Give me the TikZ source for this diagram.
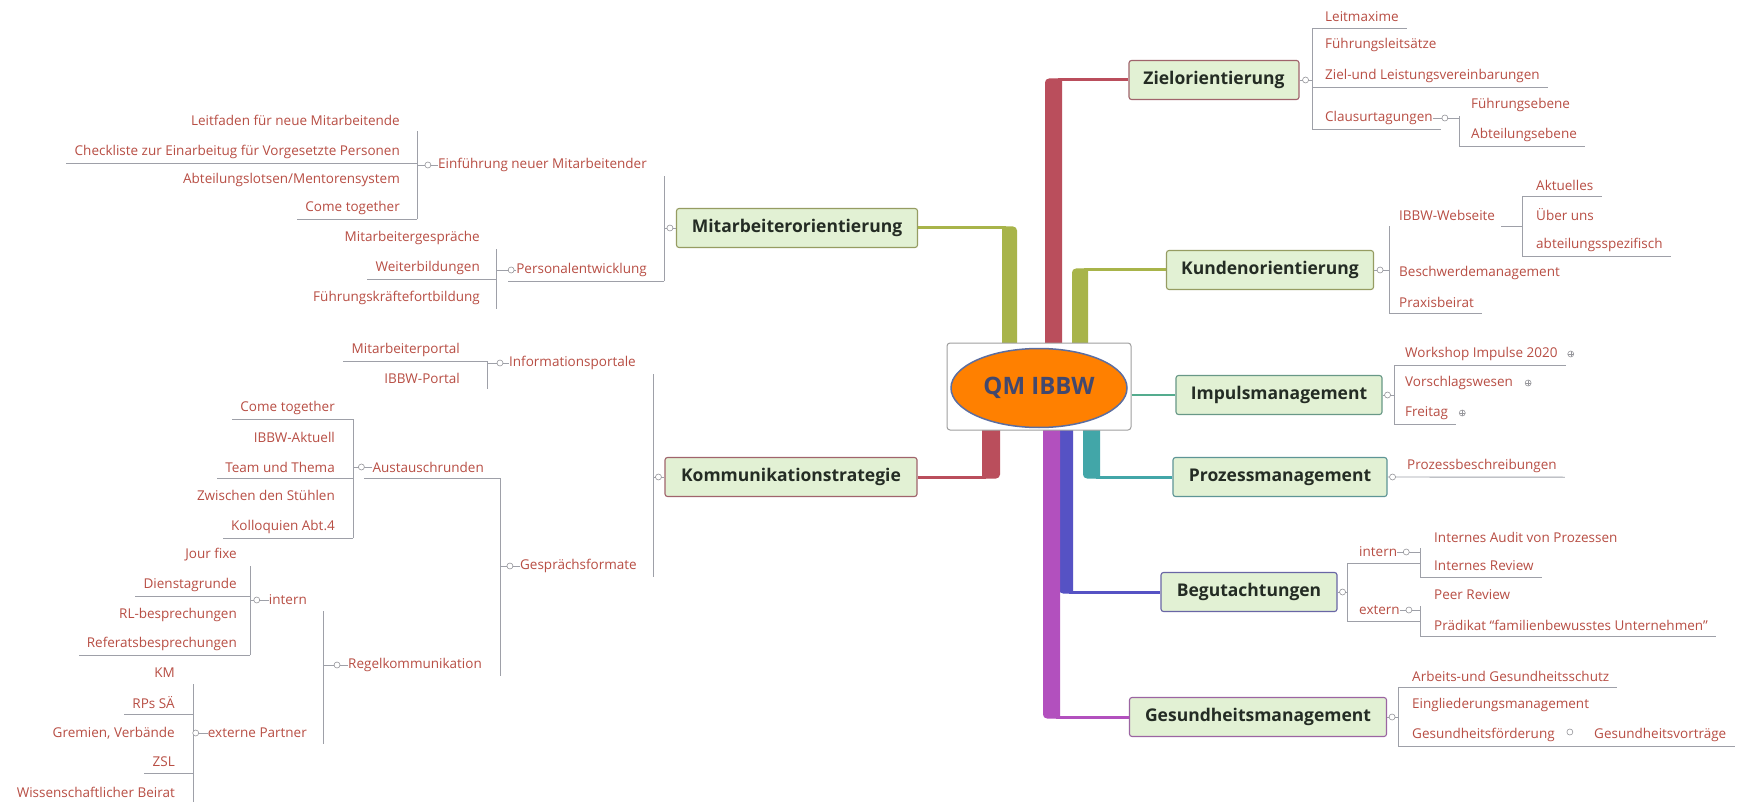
\documentclass[tikz,border=0pt]{standalone}
\usepackage{fontspec}
\setmainfont{Open Sans}
\usetikzlibrary{calc,shapes.geometric}
\definecolor{bRed}{RGB}{186,78,92}
\definecolor{bOlive}{RGB}{168,180,74}
\definecolor{bTeal}{RGB}{66,166,168}
\definecolor{bBlue}{RGB}{86,82,196}
\definecolor{bPurple}{RGB}{178,80,190}
\definecolor{bImp}{RGB}{84,172,142}
\definecolor{subc}{RGB}{184,78,68}
\definecolor{linec}{RGB}{158,160,168}
\definecolor{topf}{RGB}{226,241,212}
\definecolor{topt}{RGB}{36,44,36}
\definecolor{rootc}{RGB}{255,128,0}
\definecolor{rootb}{RGB}{92,110,160}
\definecolor{roott}{RGB}{66,72,110}
\definecolor{mkc}{RGB}{150,150,155}
\begin{document}
\begin{tikzpicture}[x=1pt,y=-1pt,
  subtxt/.style={font=\fontsize{13.5}{16}\selectfont, text=subc, inner xsep=0pt, inner ysep=0pt, minimum height=22pt},
  subR/.style={subtxt, anchor=west},
  subL/.style={subtxt, anchor=east},
  ul/.style={draw=linec, line width=0.9pt},
  topic/.style={draw=#1!55!gray, fill=topf, rounded corners=2.5pt, line width=1.1pt, font=\fontsize{17.5}{21}\selectfont\bfseries, text=topt, minimum height=39pt, inner xsep=2pt},
  mk/.style={circle, draw=mkc, fill=white, line width=0.6pt, inner sep=0pt, minimum size=6pt},
  mkp/.style={mk, path picture={\draw[mkc, line width=0.5pt] (path picture bounding box.west) -- (path picture bounding box.east) (path picture bounding box.north) -- (path picture bounding box.south);}},
  twig/.style={line width=3pt},
]
\useasboundingbox (0,0) rectangle (1742,802);
\fill[white] (0,0) rectangle (1742,802);

% ---------- main topics ----------
\node[topic=bRed, minimum width=170pt] (ziel) at (1214,80) {Zielorientierung};
\node[topic=bOlive, minimum width=207pt] (kun) at (1270,270) {Kundenorientierung};
\node[topic=bImp, minimum width=206pt] (imp) at (1279,395) {Impulsmanagement};
\node[topic=bTeal, minimum width=214pt] (pro) at (1280,477) {Prozessmanagement};
\node[topic=bBlue, minimum width=176pt] (beg) at (1249,592) {Begutachtungen};
\node[topic=bPurple, minimum width=257pt] (ges) at (1258,717) {Gesundheitsmanagement};
\node[topic=bOlive, minimum width=241pt] (mit) at (797,228) {Mitarbeiterorientierung};
\node[topic=bRed, minimum width=252pt] (kom) at (791,477) {Kommunikationstrategie};

% ---------- thick branches (outer corner slightly rounded) ----------
\fill[bRed] (1045,344) [rounded corners=4pt] -- (1045,78.5) [sharp corners] -- (1062,78.5) -- (1062,344) -- cycle;
\fill[bOlive] (1017,344) [rounded corners=4pt] -- (1017,226.5) [sharp corners] -- (1002,226.5) -- (1002,344) -- cycle;
\fill[bOlive] (1072,344) [rounded corners=4pt] -- (1072,268.5) [sharp corners] -- (1088,268.5) -- (1088,344) -- cycle;
\fill[bTeal] (1083,429) [rounded corners=4pt] -- (1083,478.5) [sharp corners] -- (1100,478.5) -- (1100,429) -- cycle;
\fill[bRed] (1000,429) [rounded corners=4pt] -- (1000,478.5) [sharp corners] -- (982,478.5) -- (982,429) -- cycle;
\fill[bBlue] (1059,429) [rounded corners=4pt] -- (1059,593.5) [sharp corners] -- (1073,593.5) -- (1073,429) -- cycle;
\fill[bPurple] (1043,429) [rounded corners=4pt] -- (1043,718.5) [sharp corners] -- (1060,718.5) -- (1060,429) -- cycle;

% ---------- root ----------
\node[draw=gray!75, fill=white, rounded corners=3pt, minimum width=184pt, minimum height=87pt, line width=1pt] (root) at (1039,386.5) {};
\node[ellipse, fill=rootc, draw=rootb, line width=1.5pt, minimum width=176pt, minimum height=79pt, inner sep=0pt, font=\fontsize{24}{28}\selectfont\bfseries, text=roott] (core) at (1039,388) {QM IBBW};

\draw[bRed, twig] (1058,80) -- (ziel.west);
\draw[bOlive, twig] (1006,228) -- (mit.east);
\draw[bOlive, twig] (1084,270) -- (kun.west);
\draw[bImp, line width=2.5pt] (root.east |- imp.west) -- (imp.west);
\draw[bTeal, twig] (1096,477) -- (pro.west);
\draw[bRed, twig] (986,477) -- (kom.east);
\draw[bBlue, twig] (1069,592) -- (beg.west);
\draw[bPurple, twig] (1056,717) -- (ges.west);

% ================= RIGHT SIDE =================
% Zielorientierung
\coordinate (vZ) at (1312,0);
\node[subR] (z1) at (1325,17) {Leitmaxime};
\node[subR] (z2) at (1325,45) {Führungsleitsätze};
\node[subR] (z3) at (1325,76) {Ziel-und Leistungsvereinbarungen};
\node[subR] (z4) at (1325,118) {Clausurtagungen};
\draw[ul] (z1.south -| vZ) -- (z4.south -| vZ);
\draw[ul] (ziel.east) -- (ziel.east -| vZ);
\draw[ul] (z1.south -| vZ) -- ([xshift=8pt]z1.south east);
\draw[ul] (z3.south -| vZ) -- ([xshift=8pt]z3.south east);
\draw[ul] (z4.south -| vZ) -- ([xshift=8pt]z4.south east);
\node[mk] (mZ) at ([xshift=6pt]ziel.east) {};
% Clausurtagungen
\coordinate (vC) at (1459,0);
\node[subR] (c1) at (1471,105) {Führungsebene};
\node[subR] (c2) at (1471,135) {Abteilungsebene};
\draw[ul] (c1.south -| vC) -- (c2.south -| vC);
\draw[ul] (z4.east) -- (z4.east -| vC);
\draw[ul] (c2.south -| vC) -- ([xshift=8pt]c2.south east);
\node[mk] (mC) at ([xshift=12pt]z4.east) {};

% Kundenorientierung
\coordinate (vK) at (1389,0);
\node[subR] (k1) at (1399,215) {IBBW-Webseite};
\node[subR] (k2) at (1399,273) {Beschwerdemanagement};
\node[subR] (k3) at (1399,302) {Praxisbeirat};
\draw[ul] (k1.south -| vK) -- (k3.south -| vK);
\draw[ul] (kun.east) -- (kun.east -| vK);
\draw[ul] (k3.south -| vK) -- ([xshift=8pt]k3.south east);
\node[mk] (mK) at ([xshift=6pt]kun.east) {};
% IBBW-Webseite
\coordinate (vW) at (1522,0);
\node[subR] (w1) at (1536,185) {Aktuelles};
\node[subR] (w2) at (1536,215) {Über uns};
\node[subR] (w3) at (1536,245) {abteilungsspezifisch};
\draw[ul] (w1.south -| vW) -- (w3.south -| vW);
\draw[ul] ([xshift=6pt]k1.south east) -- (k1.south -| vW);
\draw[ul] (w1.south -| vW) -- ([xshift=8pt]w1.south east);
\draw[ul] (w3.south -| vW) -- ([xshift=8pt]w3.south east);

% Impulsmanagement
\coordinate (vI) at (1394,0);
\node[subR] (i1) at (1405,354) {Workshop Impulse 2020};
\node[subR] (i2) at (1405,383) {Vorschlagswesen};
\node[subR] (i3) at (1405,413) {Freitag};
\draw[ul] (i1.south -| vI) -- (i3.south -| vI);
\draw[ul] (imp.east) -- (imp.east -| vI);
\draw[ul] (i1.south -| vI) -- ([xshift=8pt]i1.south east);
\draw[ul] (i3.south -| vI) -- ([xshift=8pt]i3.south east);
\node[mk] (mI) at ([xshift=5pt]imp.east) {};
\node[mkp] (mI1) at ([xshift=13pt]i1.east) {};
\node[mkp] (mI2) at ([xshift=15pt]i2.east) {};
\node[mkp] (mI3) at ([xshift=14pt]i3.east) {};

% Prozessmanagement
\node[subR] (q1) at (1407,466) {Prozessbeschreibungen};
\draw[ul] (pro.east) -- ([xshift=8pt]q1.south east);
\node[mk] (mP) at ([xshift=5pt]pro.east) {};

% Begutachtungen
\coordinate (vB) at (1347,0);
\node[subR] (b1) at (1359,552) {intern};
\node[subR] (b2) at (1359,610) {extern};
\draw[ul] (b1.south -| vB) -- (b2.south -| vB);
\draw[ul] (beg.east) -- (beg.east -| vB);
\coordinate (vBi) at (1420,0);
\draw[ul] (b1.south -| vB) -- (b1.south -| vBi);
\draw[ul] (b2.south -| vB) -- (b2.south -| vBi);
\node[mk] (mB) at ([xshift=5pt]beg.east) {};
% intern
\node[subR] (bi1) at (1434,537) {Internes Audit von Prozessen};
\node[subR] (bi2) at (1434,566) {Internes Review};
\draw[ul] (bi1.south -| vBi) -- (bi2.south -| vBi);
\draw[ul] (b1.east) -- (b1.east -| vBi);
\draw[ul] (bi2.south -| vBi) -- ([xshift=8pt]bi2.south east);
\node[mk] (mBi) at ([xshift=9pt]b1.east) {};
% extern
\node[subR] (be1) at (1434,595) {Peer Review};
\node[subR] (be2) at (1434,625) {Prädikat “familienbewusstes Unternehmen”};
\draw[ul] (be1.south -| vBi) -- (be2.south -| vBi);
\draw[ul] (b2.east) -- (b2.east -| vBi);
\draw[ul] (be2.south -| vBi) -- ([xshift=8pt]be2.south east);
\node[mk] (mBe) at ([xshift=9pt]b2.east) {};

% Gesundheitsmanagement
\coordinate (vG) at (1398,0);
\node[subR] (g1) at (1412,676) {Arbeits-und Gesundheitsschutz};
\node[subR] (g2) at (1412,705) {Eingliederungsmanagement};
\node[subR] (g3) at (1412,735) {Gesundheitsförderung};
\node[subR] (g4) at (1594,735) {Gesundheitsvorträge};
\draw[ul] (g1.south -| vG) -- (g3.south -| vG);
\draw[ul] (ges.east) -- (ges.east -| vG);
\draw[ul] (g1.south -| vG) -- ([xshift=8pt]g1.south east);
\draw[ul] (g3.south -| vG) -- ([xshift=8pt]g4.south east);
\node[mk] (mG) at ([xshift=5pt]ges.east) {};
\node[mk] (mG3) at ([xshift=15pt,yshift=3pt]g3.east) {};

% ================= LEFT SIDE =================
% Mitarbeiterorientierung
\coordinate (vM) at (664,0);
\node[subL] (e0) at (647,165) {Einführung neuer Mitarbeitender};
\node[subL] (p0) at (647,270) {Personalentwicklung};
\draw[ul] (e0.south -| vM) -- (p0.south -| vM);
\draw[ul] (mit.west) -- (mit.west -| vM);
\draw[ul] (p0.south -| vM) -- ([xshift=-8pt]p0.south west);
\node[mk] (mM) at ([xshift=-6pt]mit.west) {};
% Einfuehrung
\coordinate (vE) at (417,0);
\node[subL] (e1) at (400,120) {Leitfaden für neue Mitarbeitende};
\node[subL] (e2) at (400,152) {Checkliste zur Einarbeitug für Vorgesetzte Personen};
\node[subL] (e3) at (400,180) {Abteilungslotsen/Mentorensystem};
\node[subL] (e4) at (400,208) {Come together};
\draw[ul] (e1.south -| vE) -- (e4.south -| vE);
\draw[ul] (e0.west) -- (e0.west -| vE);
\draw[ul] (e2.south -| vE) -- ([xshift=-8pt]e2.south west);
\draw[ul] (e4.south -| vE) -- ([xshift=-8pt]e4.south west);
\node[mk] (mE) at ([xshift=-10pt]e0.west) {};
% Personalentwicklung
\coordinate (vP) at (496,0);
\node[subL] (p1) at (480,238) {Mitarbeitergespräche};
\node[subL] (p2) at (480,268) {Weiterbildungen};
\node[subL] (p3) at (480,298) {Führungskräftefortbildung};
\draw[ul] (p1.south -| vP) -- (p3.south -| vP);
\draw[ul] (p0.west) -- (p0.west -| vP);
\draw[ul] (p2.south -| vP) -- ([xshift=-8pt]p2.south west);
\node[mk] (mP0) at ([xshift=-5pt]p0.west) {};

% Kommunikationstrategie
\coordinate (vKo) at (653,0);
\node[subL] (f1) at (636,363) {Informationsportale};
\node[subL] (f2) at (637,566) {Gesprächsformate};
\draw[ul] (f1.south -| vKo) -- (f2.south -| vKo);
\draw[ul] (kom.west) -- (kom.west -| vKo);
\node[mk] (mKo) at ([xshift=-6pt]kom.west) {};
% Informationsportale
\coordinate (vIn) at (487,0);
\node[subL] (f11) at (460,350) {Mitarbeiterportal};
\node[subL] (f12) at (460,378) {IBBW-Portal};
\draw[ul] (f11.south -| vIn) -- (f12.south -| vIn);
\draw[ul] (f1.west) -- (f1.west -| vIn);
\draw[ul] (f11.south -| vIn) -- ([xshift=-8pt]f11.south west);
\node[mk] (mIn) at ([xshift=-9pt]f1.west) {};
% Gespraechsformate
\coordinate (vGf) at (500,0);
\node[subL] (a0) at (484,467) {Austauschrunden};
\node[subL] (r0) at (482,665) {Regelkommunikation};
\draw[ul] (a0.south -| vGf) -- (r0.south -| vGf);
\draw[ul] (f2.west) -- (f2.west -| vGf);
\draw[ul] (a0.south -| vGf) -- ([xshift=-8pt]a0.south west);
\node[mk] (mGf) at ([xshift=-10pt]f2.west) {};
% Austauschrunden
\coordinate (vA) at (353,0);
\node[subL] (a1) at (335,408) {Come together};
\node[subL] (a2) at (335,437) {IBBW-Aktuell};
\node[subL] (a3) at (335,467) {Team und Thema};
\node[subL] (a4) at (335,495) {Zwischen den Stühlen};
\node[subL] (a5) at (335,527) {Kolloquien Abt.4};
\draw[ul] (a1.south -| vA) -- (a5.south -| vA);
\draw[ul] (a0.west) -- (a0.west -| vA);
\draw[ul] (a1.south -| vA) -- ([xshift=-8pt]a1.south west);
\draw[ul] (a3.south -| vA) -- ([xshift=-8pt]a3.south west);
\draw[ul] (a5.south -| vA) -- ([xshift=-8pt]a5.south west);
\node[mk] (mA) at ([xshift=-11pt]a0.west) {};
% Regelkommunikation
\coordinate (vR) at (323,0);
\node[subL] (ri) at (307,600) {intern};
\node[subL] (re) at (307,733) {externe Partner};
\draw[ul] (ri.south -| vR) -- (re.south -| vR);
\draw[ul] (r0.west) -- (r0.west -| vR);
\node[mk] (mR) at ([xshift=-11pt]r0.west) {};
% intern
\coordinate (vRi) at (250,0);
\node[subL] (j1) at (237,555) {Jour fixe};
\node[subL] (j2) at (237,585) {Dienstagrunde};
\node[subL] (j3) at (237,615) {RL-besprechungen};
\node[subL] (j4) at (237,644) {Referatsbesprechungen};
\draw[ul] (j1.south -| vRi) -- (j4.south -| vRi);
\draw[ul] (ri.west) -- (ri.west -| vRi);
\draw[ul] (j2.south -| vRi) -- ([xshift=-8pt]j2.south west);
\draw[ul] (j4.south -| vRi) -- ([xshift=-8pt]j4.south west);
\node[mk] (mRi) at ([xshift=-12pt]ri.west) {};
% externe Partner
\coordinate (vRe) at (193,0);
\node[subL] (x1) at (175,673) {KM};
\node[subL] (x2) at (175,703) {RPs SÄ};
\node[subL] (x3) at (175,733) {Gremien, Verbände};
\node[subL] (x4) at (175,762) {ZSL};
\node[subL] (x5) at (175,792) {Wissenschaftlicher Beirat};
\draw[ul] (x1.south -| vRe) -- (x5.south -| vRe);
\draw[ul] (re.west) -- (re.west -| vRe);
\draw[ul] (x2.south -| vRe) -- ([xshift=-8pt]x2.south west);
\draw[ul] (x4.south -| vRe) -- ([xshift=-8pt]x4.south west);
\node[mk] (mRe) at ([xshift=-12pt]re.west) {};
\end{tikzpicture}
\end{document}
